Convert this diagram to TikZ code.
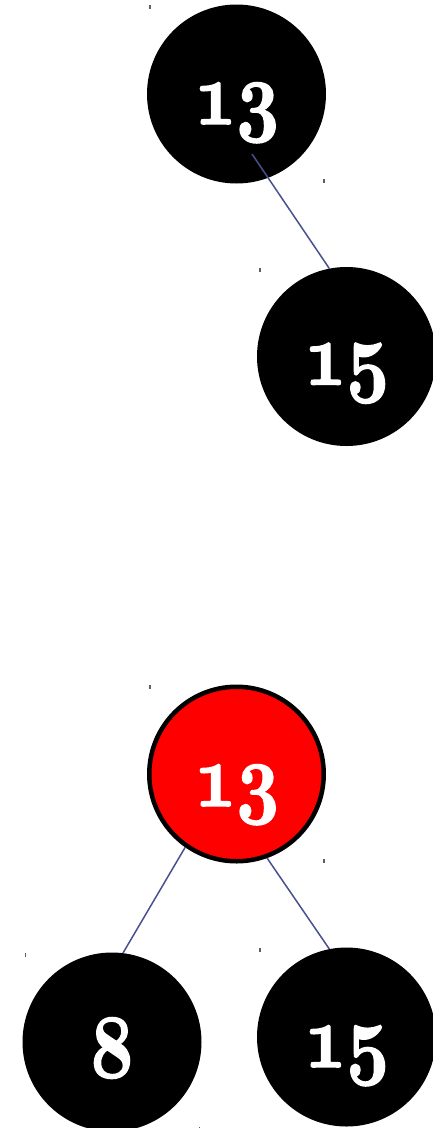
\documentclass[tikz,border=0pt]{standalone}
\usetikzlibrary{calc}
\DeclareFontFamily{OML}{myosf}{\skewchar\font=127}
\DeclareFontShape{OML}{myosf}{b}{it}{<-> cmmib10}{}
\newcommand{\numlab}[1]{\scalebox{0.82}[1]{\special{pdf:literal direct 2 Tr 1.6 w}#1\special{pdf:literal direct 0 Tr 1 w}}}
\definecolor{edgec}{RGB}{74,79,142}
\definecolor{tickc}{RGB}{95,95,95}
\begin{document}
\begin{tikzpicture}[x=1pt,y=-1pt,
  blacknode/.style={circle,fill=black,inner sep=0pt,outer sep=0pt,minimum size=179pt},
  rednode/.style={circle,fill=red,draw=black,line width=4.5pt,inner sep=0pt,outer sep=2.25pt,minimum size=174.5pt},
  numtext/.style={text=white,anchor=base,inner sep=0pt,font={\fontsize{90}{90}\usefont{OML}{myosf}{b}{it}}},
  edgeline/.style={draw=edgec,line width=1.5pt},
  tickmark/.style={draw=tickc,line width=1.2pt}]
\useasboundingbox (0,0) rectangle (433,1128);
% upper tree
\node[blacknode] (a13) at (236.5,94) {};
\node[blacknode] (a15) at (346.5,356.5) {};
\node[numtext] (ta13) at ($(a13)+(0,30)$) {\numlab{13}};
\node[numtext] (ta15) at ($(a15)+(0,28)$) {\numlab{15}};
\coordinate (e1s) at ($(a13)+(15.5,60)$);
\draw[edgeline] (e1s) -- (a15.101);
% lower tree
\node[rednode] (b13) at (236.5,774) {};
\node[blacknode] (b8) at (112,1042) {};
\node[blacknode] (b15) at (346.5,1037) {};
\node[numtext] (tb13) at ($(b13)+(0,32)$) {\numlab{13}};
\node[numtext] (tb8) at ($(b8)+(0,35)$) {\numlab{8}};
\node[numtext] (tb15) at ($(b15)+(0,30)$) {\numlab{15}};
\draw[edgeline] (b13.235.5) -- (b8.83);
\draw[edgeline] (b13.290) -- (b15.101);
% small tick marks at node box corners
\foreach \n in {a13,a15,b13,b8,b15}{
  \draw[tickmark] ($(\n.west |- \n.north)+(3,0.5)$) -- ++(0,4);
}
\foreach \n in {a13,b13,b8}{
  \draw[tickmark] ($(\n.east |- \n.south)+(-2,-4.5)$) -- ++(0,4);
}
\end{tikzpicture}
\end{document}
